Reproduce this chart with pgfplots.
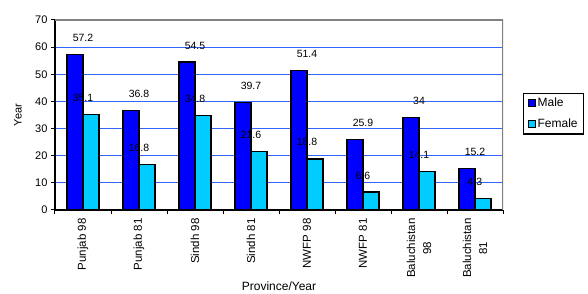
\documentclass[border=0pt]{standalone}
\usepackage{fontspec}
\setmainfont{Liberation Sans}
\usepackage{pgfplots}
\pgfplotsset{compat=1.18}
\definecolor{malebar}{RGB}{0,0,255}
\definecolor{femalebar}{RGB}{0,204,255}
\definecolor{gridblue}{RGB}{51,102,255}
\pgfplotsset{
  sqlegend/.style={legend image code/.code={\draw[##1, line width=1pt] (0pt,-3.5pt) rectangle (7pt,3.5pt);}},
}
\begin{document}
\begin{tikzpicture}[font=\fontsize{11}{13}\selectfont]
\useasboundingbox (0,0) rectangle (588pt,294pt);
\begin{axis}[
  at={(55pt,84pt)}, anchor=south west,
  scale only axis, width=448pt, height=190pt,
  xmin=-0.5, xmax=7.5, ymin=0, ymax=70,
  axis x line*=bottom, axis y line*=left,
  axis line style={black, line width=1.2pt},
  xtick={0,...,7},
  xticklabels={Punjab 98, Punjab 81, Sindh 98, Sindh 81, NWFP 98, NWFP 81, {Baluchistan\\98}, {Baluchistan\\81}},
  xticklabel style={rotate=90, anchor=east, align=center, font=\fontsize{11.5}{16}\selectfont, xshift=-1pt},
  minor xtick={-0.5,0.5,...,7.5},
  major x tick style={draw=none},
  ytick={0,10,...,70},
  tick align=outside,
  major tick length=4pt, minor tick length=4pt,
  tick style={black, line width=1pt},
  ymajorgrids, grid style={gridblue, line width=0.8pt},
  /pgf/number format/assume math mode=true,
  yticklabel style={font=\fontsize{11}{13}\selectfont},
  ylabel={Year}, xlabel={Province/Year},
  ylabel style={at={(axis description cs:-0.083,0.5)}, anchor=center, font=\fontsize{11}{13}\selectfont},
  xlabel style={at={(axis description cs:0.5,-0.4263)}, anchor=base, font=\fontsize{12}{14}\selectfont},
  legend style={at={(1.0446,0.6158)}, anchor=north west, draw=black, line width=1.2pt,
    font=\fontsize{12}{14}\selectfont, row sep=7pt, inner xsep=4pt, inner ysep=2.5pt},
  legend cell align=left,
]
% data labels (drawn first so the bars cover them, as in the reference)
\addplot[ybar, bar width=16pt, bar shift=-8pt, draw=none, fill=none, forget plot,
  nodes near coords, point meta=explicit symbolic,
  every node near coord/.append style={anchor=south, inner sep=0pt, yshift=12.7pt, font=\fontsize{10.5}{12}\selectfont}]
  coordinates {(0,57.2)[57.2] (1,36.8)[36.8] (2,54.5)[54.5] (3,39.7)[39.7] (4,51.4)[51.4] (5,25.9)[25.9] (6,34)[34] (7,15.2)[15.2]};
\addplot[ybar, bar width=16pt, bar shift=8pt, draw=none, fill=none, forget plot,
  nodes near coords, point meta=explicit symbolic,
  every node near coord/.append style={anchor=south, inner sep=0pt, yshift=12.7pt, font=\fontsize{10.5}{12}\selectfont}]
  coordinates {(0,35.1)[35.1] (1,16.8)[16.8] (2,34.8)[34.8] (3,21.6)[21.6] (4,18.8)[18.8] (5,6.6)[6.6] (6,14.1)[14.1] (7,4.3)[4.3]};
% bars
\addplot[ybar, bar width=16pt, bar shift=-8pt, draw=black, line width=1.2pt, fill=malebar, sqlegend]
  coordinates {(0,57.2) (1,36.8) (2,54.5) (3,39.7) (4,51.4) (5,25.9) (6,34) (7,15.2)};
\addplot[ybar, bar width=16pt, bar shift=8pt, draw=black, line width=1.2pt, fill=femalebar, sqlegend]
  coordinates {(0,35.1) (1,16.8) (2,34.8) (3,21.6) (4,18.8) (5,6.6) (6,14.1) (7,4.3)};
\legend{Male, Female}
\draw[gray, line width=1.2pt] (rel axis cs:0,1) -- (rel axis cs:1,1) -- (rel axis cs:1,0);
\end{axis}
\end{tikzpicture}
\end{document}
